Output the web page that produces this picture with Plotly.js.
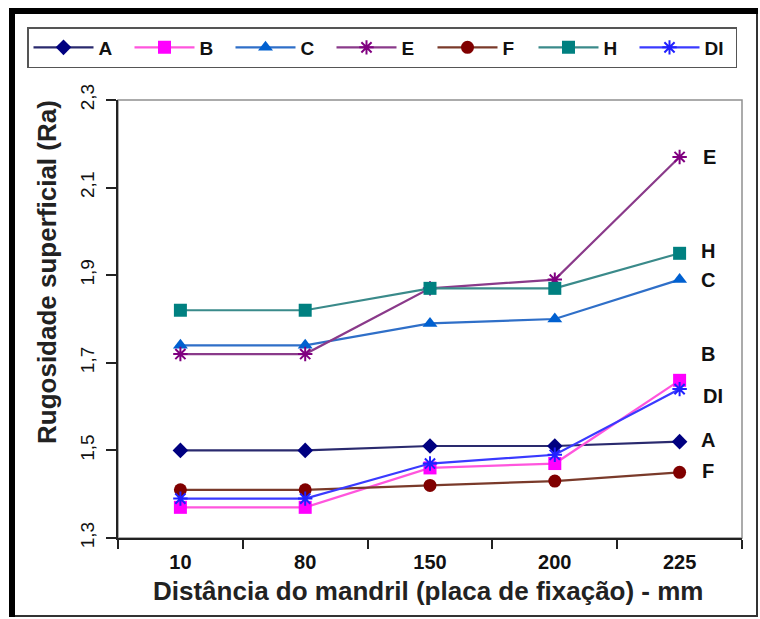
<!DOCTYPE html>
<html>
<head>
<meta charset="utf-8">
<script src="https://cdn.plot.ly/plotly-3.0.1.min.js"></script>
<style>html,body{margin:0;padding:0;background:#fff;}#chart{width:760px;height:619px;}</style>
</head>
<body>
<div id="chart"></div>
<script>
const categories = ["10", "80", "150", "200", "225"];
const seriesNames = ["A", "B", "C", "E", "F", "H", "DI"];
const valuesA  = [1.50, 1.50, 1.51, 1.51, 1.52];
const valuesB  = [1.37, 1.37, 1.46, 1.47, 1.66];
const valuesC  = [1.74, 1.74, 1.79, 1.80, 1.89];
const valuesE  = [1.72, 1.72, 1.87, 1.89, 2.17];
const valuesF  = [1.41, 1.41, 1.42, 1.43, 1.45];
const valuesH  = [1.82, 1.82, 1.87, 1.87, 1.95];
const valuesDI = [1.39, 1.39, 1.47, 1.49, 1.64];
const yTickLabels = ["1,3", "1,5", "1,7", "1,9", "2,1", "2,3"];
const yTickVals = [1.3, 1.5, 1.7, 1.9, 2.1, 2.3];
const xTitle = "Distância do mandril (placa de fixação) - mm";
const yTitle = "Rugosidade superficial (Ra)";

const allValues = [valuesA, valuesB, valuesC, valuesE, valuesF, valuesH, valuesDI];
const lineColors = ["#2a2a6e", "#ff55dd", "#2f6fc8", "#8a3a8a", "#7a3a2a", "#3a8a8a", "#3a3aff"];
const markerColors = ["#000080", "#ff00ff", "#0060d0", "#800080", "#800000", "#008080", "#2020ff"];
const symbols = ["diamond", "square", "triangle-up", "asterisk-open", "circle", "square", "asterisk-open"];
const sizes = [12, 13, 13, 12, 13, 13, 12];
const labelShift = [[28, 2], [28, 26], [28, 0], [30, 0], [28, 1], [28, 2], [33, -7]];

const F = "Liberation Sans, Arial, sans-serif";

const traces = allValues.map((vals, i) => ({
  x: categories, y: vals, name: seriesNames[i], type: "scatter", mode: "lines+markers",
  line: {color: lineColors[i], width: 2.2},
  marker: {symbol: symbols[i], size: sizes[i], color: markerColors[i],
           line: {color: markerColors[i], width: (symbols[i].indexOf("asterisk") === 0 ? 2 : 0)}}
}));

const lastIdx = categories.length - 1;
const annotations = allValues.map((vals, i) => ({
  xref: "x", yref: "y", x: lastIdx, y: vals[lastIdx],
  text: seriesNames[i], showarrow: false, xanchor: "center", yanchor: "middle",
  xshift: labelShift[i][0], yshift: labelShift[i][1],
  font: {family: F, size: 20, color: "#111", weight: "bold"}
}));

const px = v => (v - 118) / 624;
const py = v => (538 - v) / 438;

annotations.push({
  xref: "paper", yref: "paper", x: px(47), y: py(272), textangle: -90,
  text: yTitle, showarrow: false, xanchor: "center", yanchor: "middle",
  font: {family: F, size: 26, color: "#222", weight: "bold"}
});
annotations.push({
  xref: "paper", yref: "paper", x: px(428), y: py(591),
  text: xTitle, showarrow: false, xanchor: "center", yanchor: "middle",
  font: {family: F, size: 26, color: "#222", weight: "bold"}
});

const shapes = [
  {type: "rect", xref: "paper", yref: "paper", x0: 0, x1: 1, y0: 0, y1: 1, layer: "below",
   line: {color: "#909090", width: 1.5}},
  {type: "rect", xref: "paper", yref: "paper", x0: px(12), x1: px(757), y0: py(11), y1: py(616),
   line: {color: "#333", width: 2}},
  {type: "line", xref: "paper", yref: "paper", x0: px(12), x1: px(12), y0: py(8), y1: py(617),
   line: {color: "#000", width: 6}},
  {type: "line", xref: "paper", yref: "paper", x0: px(9), x1: px(758), y0: py(11), y1: py(11),
   line: {color: "#000", width: 6}}
];

const layout = {
  width: 760, height: 619,
  margin: {l: 118, r: 18, t: 100, b: 81, pad: 0},
  paper_bgcolor: "#fff", plot_bgcolor: "#fff",
  showlegend: true,
  legend: {orientation: "h", x: px(27), y: py(27), xanchor: "left", yanchor: "top",
           bgcolor: "#fff", bordercolor: "#555", borderwidth: 1.5,
           font: {family: F, size: 19, color: "#111", weight: "bold"},
           entrywidth: 26, itemwidth: 60, tracegroupgap: 0},
  xaxis: {type: "category", range: [-0.5, 4.5], showline: true, linecolor: "#222", linewidth: 2,
          ticks: "outside", tickson: "boundaries", ticklen: 9, tickwidth: 2, tickcolor: "#222",
          showgrid: false, zeroline: false, tickangle: 0, ticklabelstandoff: 5,
          tickfont: {family: F, size: 20, color: "#111", weight: "bold"}},
  yaxis: {range: [1.3, 2.3], tickvals: yTickVals, ticktext: yTickLabels, tickangle: -90,
          showline: true, linecolor: "#222", linewidth: 2,
          ticks: "outside", ticklen: 10, tickwidth: 2, tickcolor: "#222",
          showgrid: false, zeroline: false, ticklabelstandoff: 4,
          tickfont: {family: F, size: 19, color: "#111"}},
  annotations: annotations,
  shapes: shapes
};

Plotly.newPlot("chart", traces, layout, {displayModeBar: false, staticPlot: true});
</script>
</body>
</html>
